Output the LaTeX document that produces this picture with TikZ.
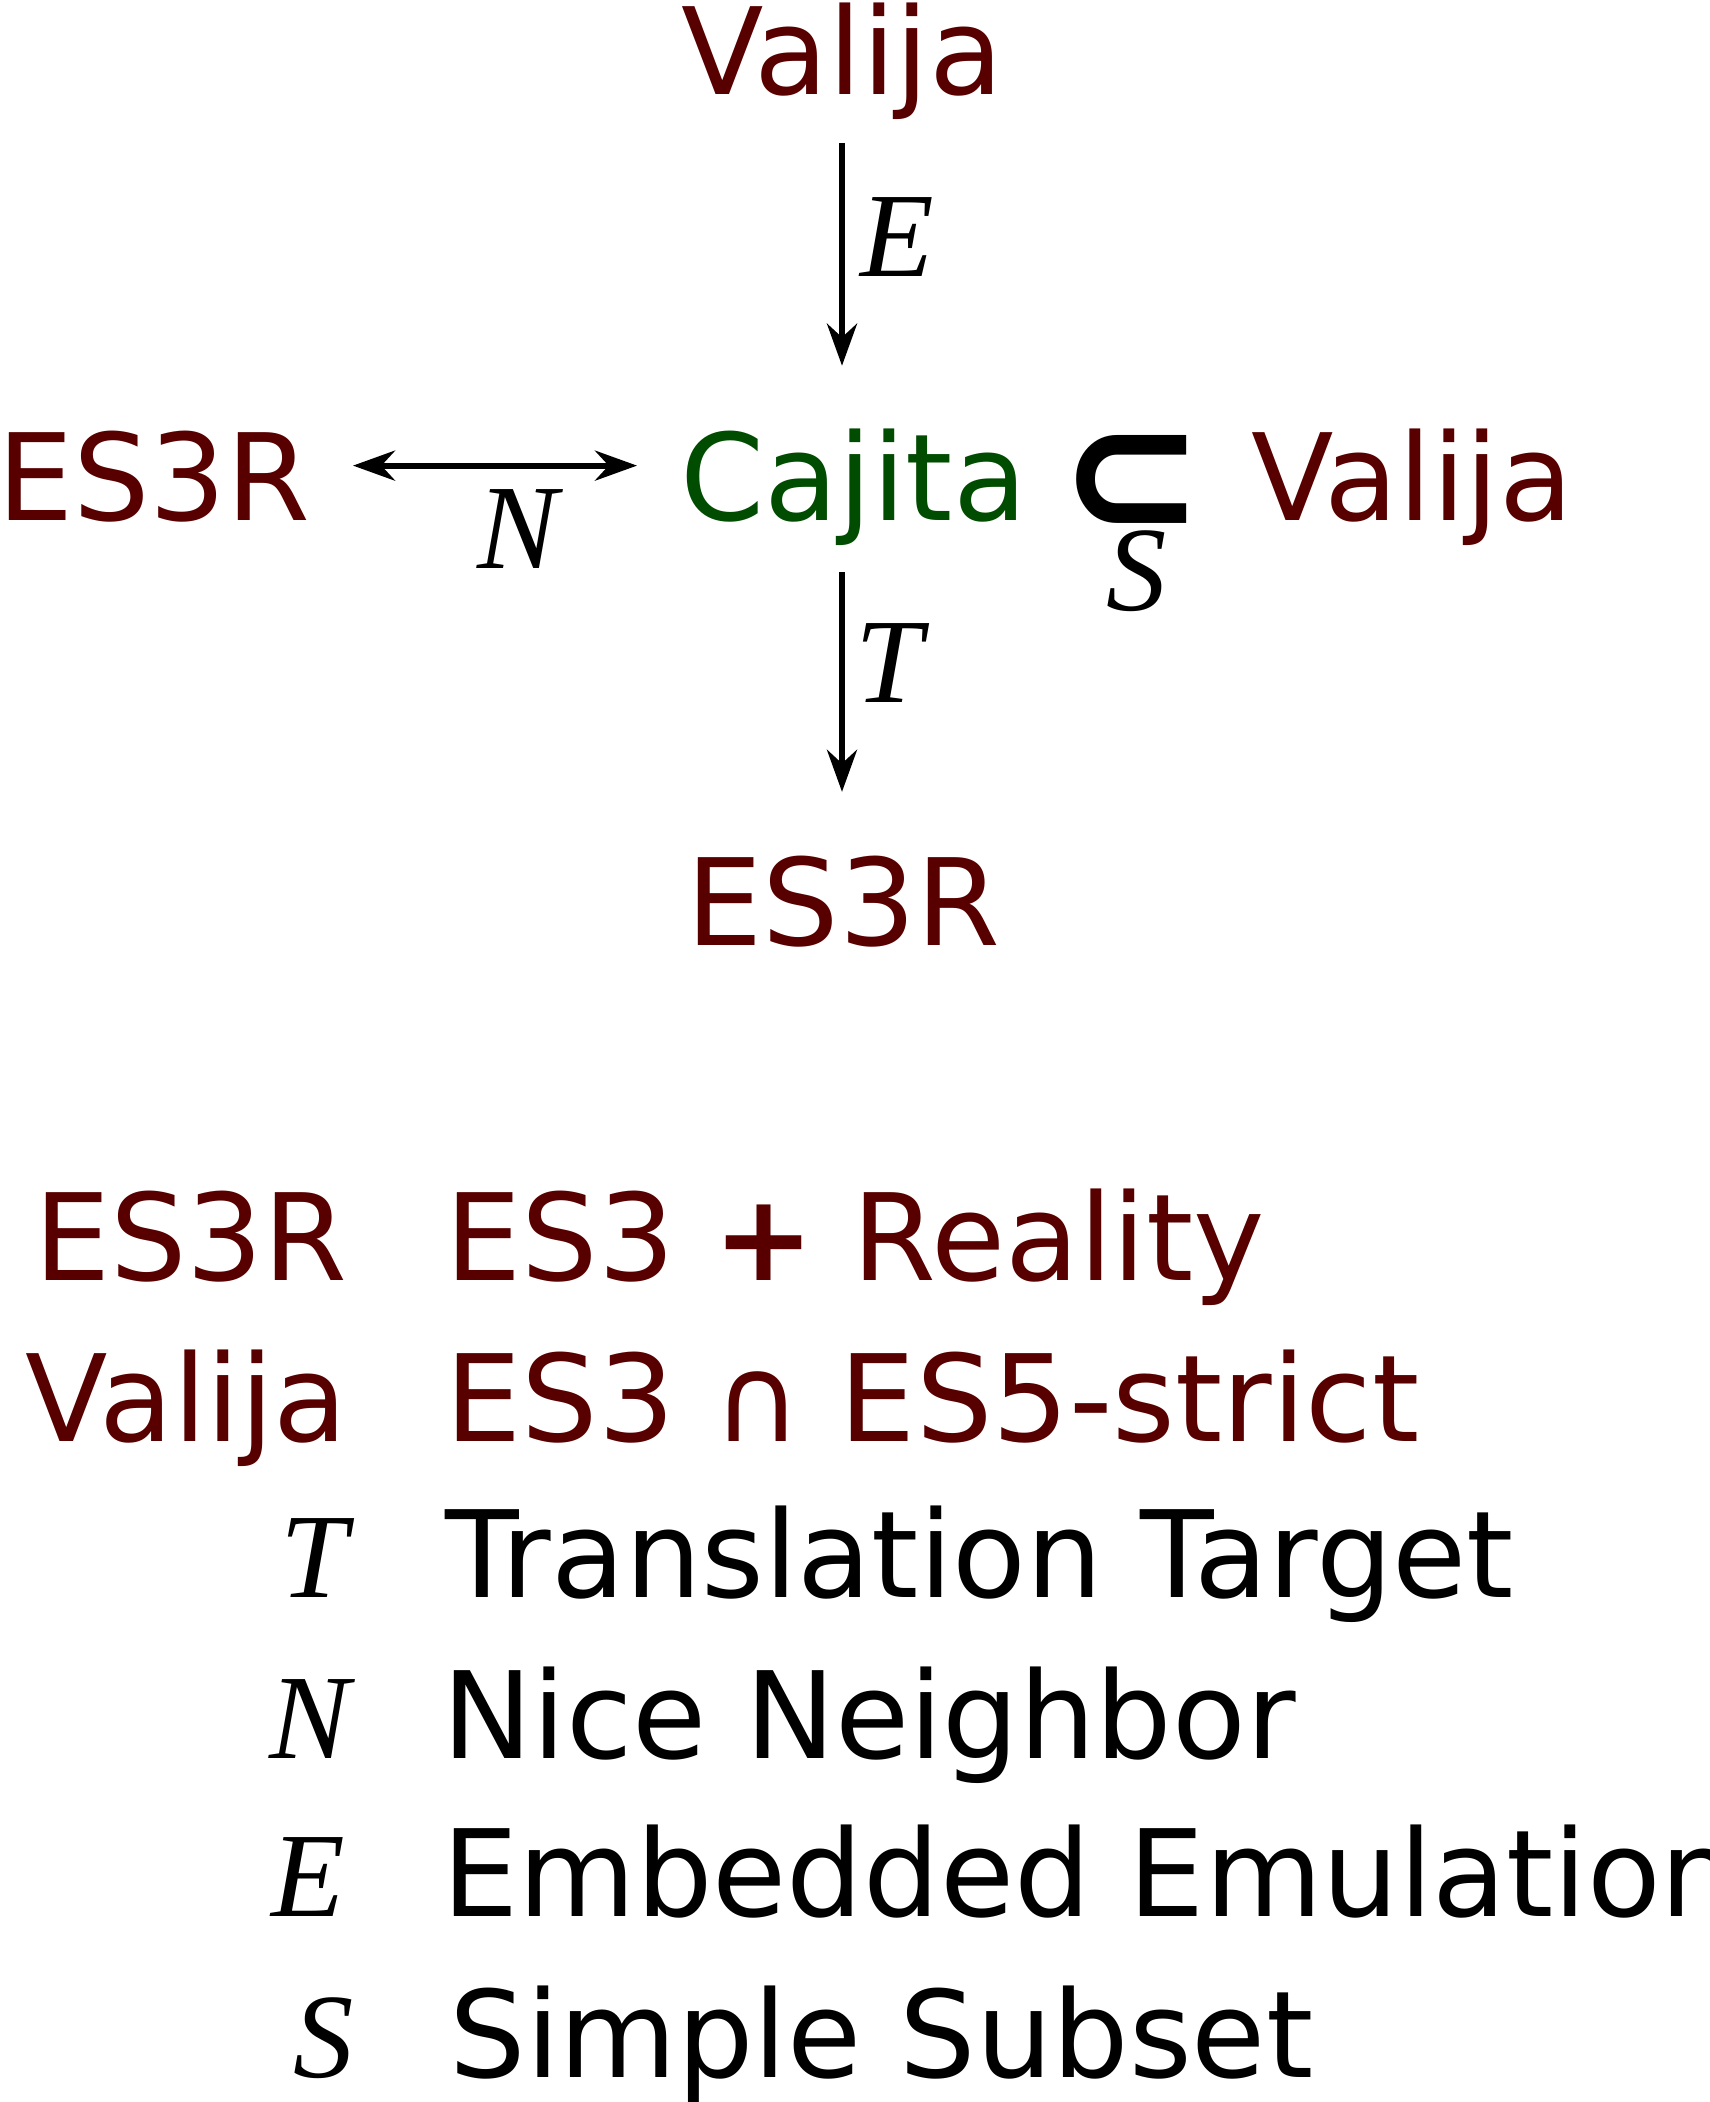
\documentclass[tikz,border=0pt]{standalone}
\usepackage{fontspec}
\setmainfont{DejaVu Sans}
\newfontfamily\timesfont{Liberation Serif}
\usetikzlibrary{arrows.meta}
\definecolor{langred}{RGB}{88,0,0}
\definecolor{langgreen}{RGB}{0,76,0}
\newcommand{\mvar}[1]{{\timesfont\itshape #1}}

\begin{document}
\begin{tikzpicture}[x=0.1mm, y=-0.1mm,
    every node/.style={inner sep=0pt, font=\fontsize{34.3}{41}\selectfont},
    >={Stealth[length=4.2mm, width=3mm]},
    lang/.style={text=langred},
    sub/.style={text=langgreen},
    rel/.style={line width=0.6mm},
    lbl/.style={inner sep=1.5mm}]
  \useasboundingbox (0, 0) rectangle (1710, 2102);
  \coordinate (axis) at (842, 0);

  % the diagram
  \node[lang, anchor=base west] (valtop) at (681, 94) {Valija};
  \node[sub, anchor=base west] (cajita) at (680, 520) {Cajita};
  \node[lang, anchor=base east] (es3rleft) at (311, 520) {ES3R};
  \node[anchor=center, yscale=1.04, font=\fontsize{49}{55}\selectfont\bfseries] (subset) at (1132, 485) {⊂};
  \node[anchor=base] (sname) at (1137, 610) {\mvar{S}};
  \node[lang, anchor=base west] (valright) at (1251, 520) {Valija};
  \node[lang, anchor=base west] (es3rbot) at (686, 945) {ES3R};

  \draw[rel, ->, shorten <=2.3mm, shorten >=6.2mm] (valtop.south -| axis) -- (cajita.north -| axis)
    node[lbl, pos=0.38, right] {\mvar{E}};
  \draw[rel, ->, shorten <=2.6mm, shorten >=6.3mm] (cajita.south -| axis) -- (es3rbot.north -| axis)
    node[lbl, pos=0.38, right, xshift=-0.5mm] {\mvar{T}};
  \draw[rel, <->, shorten <=4.2mm, shorten >=4.3mm] ([yshift=1.05mm]es3rleft.east) -- ([yshift=1.05mm]es3rleft.east -| cajita.west)
    node[lbl, pos=0.56, below, yshift=-0.6mm] {\mvar{N}};

  % the legend
  \node[lang, anchor=base east] (keyes3r) at (348, 1280) {ES3R};
  \node[lang, anchor=base west] (defes3r) at (445, 1280) {ES3 \textbf{+} Reality};
  \node[lang, anchor=base east] (keyvalija) at (348, 1441) {Valija};
  \node[lang, anchor=base west] (defvalija) at (445, 1441) {ES3 ∩ ES5-strict};
  \node[anchor=base east] (keyt) at (348, 1597) {\mvar{T}};
  \node[anchor=base east] (keyn) at (351, 1758) {\mvar{N}};
  \node[anchor=base east] (keye) at (346, 1916) {\mvar{E}};
  \node[anchor=base east] (keys) at (354, 2077) {\mvar{S}};
  \node[anchor=base west] (deft) at (445, 1597) {Translation Target};
  \node[anchor=base west] (defn) at (442, 1758) {Nice Neighbor};
  \node[anchor=base west] (defe) at (442, 1916) {Embedded Emulation};
  \node[anchor=base west] (defs) at (449, 2077) {Simple Subset};
\end{tikzpicture}
\end{document}
